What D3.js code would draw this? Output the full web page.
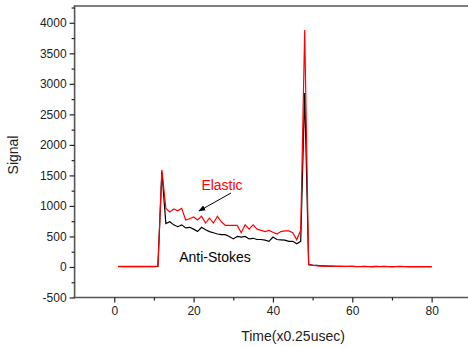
<!DOCTYPE html>
<html>
<head>
<meta charset="utf-8">
<script src="https://cdn.jsdelivr.net/npm/d3@7"></script>
<style>
  body { margin: 0; background: #fff; }
  svg { display: block; font-family: "Liberation Sans", Arial, sans-serif; }
</style>
</head>
<body>
<div id="chart"></div>
<script>
// time index (x0.25 usec)
const time = d3.range(1, 81);

// elastic signal (red)
const elastic = [
  10, 10, 10, 10, 10, 10, 10, 10, 10, 10, 12,
  1590, 960, 900, 950, 920, 960, 770, 790, 820, 770,
  830, 720, 800, 720, 830, 740, 680, 680, 680, 680,
  560, 690, 620, 690, 620, 600, 580, 600, 570, 540,
  580, 590, 590, 560, 445, 600, 3880, 36, 25,
  20, 15, 15, 12, 12, 10, 10, 8, 8, 10,
  6, 6, 8, 6, 5, 8, 6, 8, 6, 5,
  6, 8, 6, 5, 5, 5, 6, 5, 5, 5
];

// anti-stokes signal (black)
const antiStokes = [
  5, 5, 5, 5, 5, 5, 5, 5, 5, 5, 8,
  1560, 710, 740, 690, 660, 690, 640, 650, 620, 580,
  650, 610, 580, 560, 540, 530, 530, 500, 460, 500,
  490, 500, 460, 470, 450, 450, 440, 420, 490, 450,
  445, 440, 420, 420, 380, 420, 2850, 40, 30,
  25, 20, 18, 15, 15, 12, 12, 10, 10, 12,
  8, 8, 10, 8, 6, 10, 8, 10, 8, 6,
  8, 10, 8, 6, 6, 6, 8, 6, 6, 6
];

const xTicks = [0, 20, 40, 60, 80];
const xMinor = [10, 30, 50, 70];
const yTicks = [-500, 0, 500, 1000, 1500, 2000, 2500, 3000, 3500, 4000];
const yMinor = [-250, 250, 750, 1250, 1750, 2250, 2750, 3250, 3750, 4250];

const width = 468, height = 347;
const plotL = 74.6, plotR = 471.3, plotT = 6, plotB = 297.5;

const svg = d3.select("#chart").append("svg")
  .attr("width", width)
  .attr("height", height);

const x = d3.scaleLinear().domain([-10, 90]).range([plotL, plotR]);
const y = d3.scaleLinear().domain([-500, 4275]).range([plotB, plotT]);

const axisColor = "#555";
const plain = d => String(d);

// frame top line
svg.append("line")
  .attr("x1", plotL - 1).attr("x2", width)
  .attr("y1", plotT).attr("y2", plotT)
  .attr("stroke", axisColor).attr("stroke-width", 1.6);

// x axis
const xAxis = svg.append("g")
  .attr("transform", "translate(0," + plotB + ")")
  .call(d3.axisBottom(x).tickValues(xTicks).tickFormat(plain).tickSize(5).tickSizeOuter(0).tickPadding(4));
xAxis.select(".domain").attr("stroke", axisColor).attr("stroke-width", 1.6)
  .attr("d", "M" + (plotL - 1) + ",0H" + width);
xAxis.selectAll(".tick line").attr("stroke", "#222").attr("stroke-width", 1.2);
xAxis.selectAll(".tick text").attr("font-size", 12).attr("fill", "#222")
  .attr("font-family", "Liberation Sans, Arial, sans-serif");
svg.append("g")
  .attr("transform", "translate(0," + plotB + ")")
  .call(d3.axisBottom(x).tickValues(xMinor).tickSize(3).tickFormat(""))
  .call(g => g.select(".domain").remove())
  .selectAll("line").attr("stroke", "#222").attr("stroke-width", 1.2);

// y axis
const yAxis = svg.append("g")
  .attr("transform", "translate(" + plotL + ",0)")
  .call(d3.axisLeft(y).tickValues(yTicks).tickFormat(plain).tickSize(5).tickSizeOuter(0).tickPadding(3));
yAxis.select(".domain").attr("stroke", axisColor).attr("stroke-width", 1.6)
  .attr("d", "M0," + plotT + "V" + (plotB + 0.8));
yAxis.selectAll(".tick line").attr("stroke", "#222").attr("stroke-width", 1.2);
yAxis.selectAll(".tick text").attr("font-size", 12).attr("fill", "#222")
  .attr("font-family", "Liberation Sans, Arial, sans-serif");
svg.append("g")
  .attr("transform", "translate(" + plotL + ",0)")
  .call(d3.axisLeft(y).tickValues(yMinor).tickSize(3).tickFormat(""))
  .call(g => g.select(".domain").remove())
  .selectAll("line").attr("stroke", "#222").attr("stroke-width", 1.2);

// series
const line = d3.line()
  .x((d, i) => x(time[i]))
  .y(d => y(d));

svg.append("path")
  .datum(antiStokes)
  .attr("fill", "none")
  .attr("stroke", "#000")
  .attr("stroke-width", 1.2)
  .attr("d", line);

svg.append("path")
  .datum(elastic)
  .attr("fill", "none")
  .attr("stroke", "#ff0000")
  .attr("stroke-width", 1.2)
  .attr("d", line);

// annotations
svg.append("text")
  .attr("x", 222).attr("y", 190)
  .attr("text-anchor", "middle")
  .attr("font-size", 14)
  .attr("fill", "#ff0000")
  .text("Elastic");

svg.append("text")
  .attr("x", 215).attr("y", 262)
  .attr("text-anchor", "middle")
  .attr("font-size", 14)
  .attr("fill", "#000")
  .text("Anti-Stokes");

svg.append("defs").append("marker")
  .attr("id", "arrow")
  .attr("viewBox", "0 0 10 10")
  .attr("refX", 9).attr("refY", 5)
  .attr("markerWidth", 7).attr("markerHeight", 7)
  .attr("orient", "auto")
  .append("path")
  .attr("d", "M0,1L10,5L0,9z")
  .attr("fill", "#000");

svg.append("line")
  .attr("x1", 231).attr("y1", 193)
  .attr("x2", 199).attr("y2", 211)
  .attr("stroke", "#000")
  .attr("stroke-width", 1)
  .attr("marker-end", "url(#arrow)");

// axis titles
svg.append("text")
  .attr("transform", "translate(18,155) rotate(-90)")
  .attr("text-anchor", "middle")
  .attr("font-size", 14)
  .attr("fill", "#222")
  .text("Signal");

svg.append("text")
  .attr("x", 293).attr("y", 341)
  .attr("text-anchor", "middle")
  .attr("font-size", 14)
  .attr("fill", "#222")
  .text("Time(x0.25usec)");
</script>
</body>
</html>
